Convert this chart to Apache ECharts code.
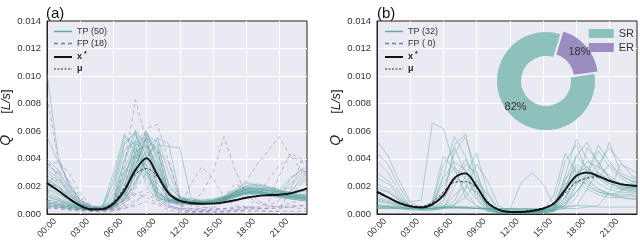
<!DOCTYPE html>
<html><head><meta charset="utf-8">
<script src="https://cdn.jsdelivr.net/npm/echarts@6/dist/echarts.min.js"></script>
<style>html,body{margin:0;padding:0;background:#fff}#c{width:640px;height:243px}</style>
</head><body><div id="c"></div>
<script>
// time of day in hours
const hours = [0,1,2,3,4,5,6,7,8,9,10,11,12,13,14,15,16,17,18,19,20,21,22,23,23.5];
const xTickLabels = ['00:00','03:00','06:00','09:00','12:00','15:00','18:00','21:00'];
const yTickLabels = ['0.000','0.002','0.004','0.006','0.008','0.010','0.012','0.014'];
// values below are in units of 10^-3 L/s
const UNIT = 0.001;

// ---- panel (a) ----
const tpA = [
 [10.2,4.2,2.0,1.0,0.6,0.5,0.8,2.5,5.2,5.6,3.0,1.2,0.9,0.8,0.8,0.9,1.1,1.4,1.6,1.5,1.4,1.3,1.2,1.1,1.1],
 [2.8,2.2,1.4,0.7,0.4,0.4,1.2,3.8,5.8,4.2,1.6,1.0,0.8,0.7,0.8,0.9,1.2,1.6,1.9,1.7,1.5,1.4,1.3,1.2,1.2],
 [0.8,0.7,0.6,0.5,0.4,0.5,1.8,5.0,6.0,3.5,1.2,0.9,0.8,0.7,0.8,1.0,1.3,1.7,2.0,1.8,1.6,1.5,1.3,1.2,1.1],
 [3.5,3.0,2.0,0.9,0.5,0.4,0.6,1.5,4.0,5.6,4.6,1.5,1.0,0.9,0.8,0.8,1.0,1.4,1.8,2.1,1.9,1.7,1.6,2.6,2.9],
 [1.6,1.2,0.8,0.5,0.3,0.3,0.5,2.0,4.5,5.0,2.8,1.0,0.8,0.8,0.9,1.0,1.2,1.5,1.7,1.6,1.5,1.4,1.3,1.2,1.2],
 [0.6,0.5,0.4,0.3,0.3,0.4,1.0,3.2,5.4,5.9,3.8,1.4,1.0,0.9,0.8,0.9,1.1,1.5,1.8,1.7,1.5,1.3,1.1,1.0,1.0],
 [4.0,3.2,1.8,0.8,0.4,0.4,0.7,1.2,2.8,4.8,5.5,5.1,1.3,1.0,0.9,0.9,1.0,1.3,1.6,1.7,1.6,1.5,1.4,1.3,1.2],
 [2.0,1.5,1.0,0.6,0.4,0.3,0.6,2.6,4.8,3.0,1.4,1.0,1.1,1.0,0.9,0.9,1.1,1.6,2.2,2.0,1.8,1.7,2.2,3.0,3.1],
 [1.2,1.0,0.7,0.4,0.3,0.3,0.9,4.0,6.1,4.8,1.8,1.1,0.9,0.8,0.8,0.9,1.2,1.6,1.8,1.6,1.4,1.3,1.2,1.1,1.0],
 [3.0,2.4,1.6,0.8,0.5,0.5,0.6,1.0,2.2,4.4,4.9,2.2,1.1,0.9,0.8,0.8,1.0,1.2,1.5,1.8,1.9,1.7,1.5,1.4,1.3],
 [0.9,0.8,0.6,0.4,0.3,0.4,2.5,5.6,5.0,2.4,1.2,0.9,0.8,0.7,0.7,0.8,1.0,1.3,1.5,1.4,1.3,1.2,1.1,1.1,1.0],
 [2.3,1.9,1.2,0.6,0.4,0.4,0.5,1.8,3.9,5.2,3.2,1.3,1.0,0.9,0.9,0.9,1.2,1.6,2.0,2.2,2.0,1.8,2.6,3.2,3.4],
 [0.7,0.6,0.5,0.4,0.3,0.3,0.4,0.8,2.0,4.0,5.5,3.0,1.1,0.8,0.8,0.8,0.9,1.2,1.4,1.5,1.4,1.2,1.1,1.0,0.9],
 [5.6,3.8,2.2,1.0,0.5,0.4,0.9,3.0,4.4,3.6,1.6,1.0,0.9,0.8,0.8,0.9,1.1,1.4,1.6,1.5,1.4,1.3,1.2,1.2,1.2],
 [1.8,1.4,0.9,0.5,0.3,0.3,0.6,1.4,3.4,5.7,5.2,2.0,1.2,1.1,1.0,1.0,1.2,1.5,1.9,1.8,1.7,1.6,1.5,1.4,1.4],
 [2.6,2.0,1.2,0.6,0.4,0.4,1.4,4.6,5.3,3.0,1.3,1.0,0.9,0.9,0.8,0.9,1.0,1.3,1.5,1.6,1.5,1.4,1.3,2.2,2.5],
 [1.0,0.9,0.7,0.5,0.4,0.4,0.5,1.1,3.0,4.6,3.4,1.4,1.0,0.9,0.8,0.8,1.0,1.4,1.8,1.9,1.8,1.6,1.4,1.3,1.3],
 [3.2,2.6,1.5,0.7,0.4,0.3,0.5,1.6,4.2,6.0,4.0,1.5,1.1,1.0,0.9,0.9,1.1,1.5,1.7,1.6,1.5,1.4,1.3,1.2,1.1],
 [0.5,0.5,0.4,0.3,0.3,0.5,3.0,5.8,4.4,2.0,1.0,0.8,0.7,0.7,0.7,0.8,1.0,1.3,1.6,1.7,1.5,1.3,1.2,1.1,1.0],
 [2.1,1.7,1.1,0.6,0.4,0.4,0.6,1.3,2.8,4.2,5.0,4.9,4.8,1.2,0.9,0.9,1.1,1.5,1.8,1.9,1.7,1.6,1.5,1.6,1.7],
 [1.4,1.1,0.8,0.5,0.4,0.4,0.8,2.8,5.0,5.4,2.2,1.1,0.9,0.8,0.8,0.8,1.0,1.3,1.6,1.5,1.4,1.3,1.2,1.4,1.5],
 [2.5,2.0,1.3,0.7,0.4,0.3,0.5,1.0,2.4,3.6,4.5,3.8,1.2,0.9,0.8,0.9,1.1,1.4,1.7,1.8,1.7,1.6,1.6,2.4,2.7],
 [0.8,0.7,0.5,0.4,0.3,0.4,0.7,2.2,4.2,3.2,1.5,1.0,0.9,0.9,1.0,1.1,1.3,1.8,2.3,2.1,1.9,1.7,1.5,1.3,1.2],
 [3.8,2.8,1.6,0.8,0.5,0.4,0.6,1.5,3.6,5.0,3.6,1.4,1.0,0.9,0.8,0.8,1.0,1.3,1.5,1.5,1.4,1.5,2.0,2.8,3.0],
 [1.3,1.0,0.7,0.5,0.4,0.6,2.2,5.2,5.9,2.8,1.2,0.9,0.8,0.7,0.7,0.8,1.0,1.3,1.6,1.6,1.5,1.4,1.3,1.2,1.2],
 [0.6,0.6,0.5,0.4,0.3,0.3,0.5,1.6,3.6,5.5,4.4,1.6,1.0,0.9,0.9,1.0,1.2,1.6,2.0,1.9,1.7,1.5,1.4,1.3,1.3]
];
const fpA = [
 [8.5,4.0,2.2,1.0,0.5,0.4,0.6,1.0,1.5,1.2,0.8,0.5,0.3,0.2,0.2,0.2,0.2,0.3,0.3,0.3,0.2,0.2,0.2,0.2,0.2],
 [3.5,3.8,3.0,1.5,0.6,0.4,0.8,3.5,8.3,5.2,1.8,0.6,0.4,0.3,0.3,0.3,0.4,0.5,0.5,0.4,0.4,0.4,0.5,0.6,0.6],
 [1.0,0.8,0.6,0.4,0.3,0.3,0.6,2.0,4.5,6.2,6.5,3.8,1.2,0.6,0.5,0.4,0.4,0.4,0.5,0.5,0.5,0.6,0.8,1.0,1.0],
 [0.6,0.5,0.4,0.3,0.2,0.2,0.3,0.6,1.8,3.0,2.6,1.0,0.6,0.8,1.5,3.0,5.6,3.2,1.4,0.8,0.6,0.5,0.5,0.4,0.4],
 [0.4,0.4,0.3,0.3,0.2,0.2,0.2,0.4,0.8,1.6,1.2,0.6,0.4,0.4,0.4,0.5,0.8,1.6,2.4,3.6,4.6,5.6,4.2,3.8,3.6],
 [2.0,3.2,2.4,1.2,0.5,0.3,0.3,0.5,1.0,1.4,1.0,0.5,0.3,2.2,3.4,2.6,1.2,0.6,0.5,0.5,0.8,2.8,4.4,4.0,3.8],
 [0.5,0.4,0.3,0.2,0.2,0.2,0.4,1.0,2.4,4.0,2.8,0.8,0.2,0.2,0.2,0.2,0.2,0.2,0.3,1.2,2.5,3.5,4.2,3.2,2.8],
 [1.5,2.6,1.8,0.8,0.4,0.3,0.3,0.4,0.6,0.9,0.7,0.3,0.1,0.1,0.1,0.1,0.1,0.2,0.2,0.2,0.2,0.2,1.8,3.8,4.0],
 [0.8,0.6,0.5,0.4,0.3,0.3,0.5,1.2,3.2,5.8,4.6,1.5,0.6,0.4,0.3,0.3,0.3,0.3,0.4,0.4,0.4,0.5,0.6,0.6,0.6],
 [2.4,2.0,1.4,0.7,0.4,0.3,0.4,0.8,1.4,1.8,3.0,1.8,0.4,0.2,0.2,0.3,1.2,2.2,1.8,1.0,0.6,1.0,2.6,3.2,3.0]
];
const xStarA = [2.25,1.7,1.1,0.6,0.33,0.35,0.75,1.7,3.2,4.05,2.8,1.5,0.95,0.8,0.74,0.75,0.85,1.0,1.18,1.3,1.36,1.4,1.5,1.72,1.86];
const muA    = [2.15,1.7,1.15,0.65,0.38,0.4,0.85,1.9,2.9,3.3,2.7,1.55,1.0,0.82,0.76,0.77,0.87,1.02,1.2,1.32,1.38,1.42,1.52,1.72,1.85];

// ---- panel (b) ----
const tpB = [
 [5.3,4.2,2.4,0.9,1.0,6.6,6.2,3.5,1.2,0.6,0.3,0.2,0.2,0.2,0.2,0.2,0.5,2.0,3.6,3.0,2.2,1.8,1.6,1.5,1.5],
 [0.5,0.5,0.4,0.4,0.4,0.4,0.5,0.5,0.4,0.4,0.4,0.3,0.3,0.3,0.3,0.3,0.4,2.8,5.4,4.0,3.0,2.5,2.2,2.0,2.0],
 [3.8,3.0,1.6,0.6,0.4,0.6,2.8,5.6,4.2,1.8,0.4,0.1,0.1,0.1,0.1,0.1,0.3,1.2,2.6,3.2,2.8,2.2,1.9,1.8,1.7],
 [1.0,0.8,0.6,0.5,0.4,0.8,3.6,4.8,3.0,1.2,0.2,0.1,0.1,0.1,0.1,0.2,0.8,3.8,5.0,3.0,2.6,3.6,2.8,2.4,2.3],
 [0.4,0.4,0.4,0.3,0.3,0.3,0.4,0.5,0.5,0.4,0.4,0.4,0.4,0.3,0.3,0.3,0.4,0.6,2.0,4.8,3.8,2.6,2.0,1.8,1.8],
 [2.6,2.2,1.2,0.6,0.4,0.5,1.6,4.4,5.6,3.0,0.6,0.1,0.1,0.1,0.2,0.2,0.5,2.6,3.2,2.4,1.8,1.5,1.4,1.4,1.3],
 [0.6,0.6,0.5,0.4,0.4,0.4,0.5,0.5,0.5,0.4,0.4,0.3,0.3,2.2,3.0,2.2,0.6,0.5,0.6,1.8,3.2,5.2,3.0,2.6,2.5],
 [1.8,1.6,1.0,0.5,0.3,0.4,1.0,2.4,4.0,2.6,0.6,0.1,0.1,0.1,0.1,0.1,0.2,1.0,2.8,3.8,3.4,2.8,2.2,1.9,1.9],
 [0.5,0.5,0.4,0.3,0.3,0.3,0.4,2.0,3.6,3.0,1.0,0.2,0.1,0.1,0.1,0.1,0.3,1.6,4.2,5.2,3.6,2.6,2.1,1.9,1.9],
 [2.2,1.8,1.1,0.6,0.4,0.9,4.2,3.2,1.6,0.6,0.2,0.1,0.1,0.1,0.1,0.2,0.6,2.2,2.4,1.8,1.4,1.2,1.2,1.1,1.1],
 [0.4,0.4,0.4,0.4,0.3,0.3,0.4,0.4,0.4,0.4,0.3,0.3,0.3,0.3,0.3,0.3,0.3,0.4,0.4,0.5,0.6,1.6,3.6,3.2,3.0],
 [3.0,2.4,1.4,0.6,0.4,0.7,2.2,3.4,2.6,1.4,0.4,0.1,0.1,0.1,0.1,0.1,0.2,0.8,2.2,2.8,4.6,3.4,2.6,2.2,2.1],
 [0.7,0.6,0.5,0.4,0.4,0.4,0.8,5.0,5.8,2.2,0.4,0.1,0.1,0.1,0.1,0.1,0.3,1.2,2.4,2.2,1.6,1.4,1.3,1.3,1.2],
 [1.4,1.2,0.8,0.5,0.4,0.4,0.5,0.6,1.8,3.6,2.4,0.6,0.2,0.1,0.1,0.2,1.4,4.4,3.0,2.0,1.6,1.4,1.6,2.2,2.4],
 [0.5,0.5,0.5,0.4,0.4,0.4,0.5,0.5,0.5,0.4,0.4,0.4,0.4,0.4,0.4,0.4,0.5,0.5,0.6,0.6,0.5,0.5,0.5,0.5,0.5],
 [4.4,3.6,2.0,0.8,0.5,0.6,1.2,2.6,2.2,1.0,0.3,0.1,0.1,0.1,0.1,0.2,0.4,1.6,3.0,3.4,2.6,2.0,1.8,1.7,1.6],
 [0.6,0.5,0.5,0.4,0.4,0.4,0.5,0.5,0.5,0.5,0.4,0.4,0.4,0.4,0.4,0.3,0.3,0.4,1.2,3.0,5.0,3.8,2.8,2.4,2.3],
 [1.2,1.0,0.7,0.5,0.4,0.6,2.6,3.8,3.2,1.6,0.5,0.1,0.1,0.1,0.1,0.1,0.3,1.8,3.4,2.6,1.8,1.4,1.2,1.1,1.0],
 [0.9,0.8,0.6,0.5,0.5,0.5,0.6,0.9,2.8,4.4,1.6,0.3,0.2,0.2,0.2,0.3,0.6,2.4,4.2,3.4,2.6,2.2,2.0,1.9,1.9],
 [2.0,1.6,1.0,0.6,0.4,0.4,0.5,1.4,2.0,1.6,0.6,0.1,0.1,0.1,0.1,0.1,0.2,0.6,1.6,2.6,3.0,2.4,1.8,1.6,1.6],
 [1.1,0.9,0.7,0.5,0.4,0.4,0.5,0.7,1.2,2.4,1.4,0.3,0.2,0.2,0.2,0.2,0.3,0.8,1.6,2.6,3.6,4.8,3.8,2.8,2.6]
];
const xStarB = [1.62,1.2,0.8,0.55,0.47,0.7,1.35,2.6,2.95,2.0,0.8,0.3,0.15,0.15,0.22,0.38,0.77,1.75,2.75,3.0,2.75,2.4,2.17,2.07,2.03];
const muB    = [1.55,1.2,0.85,0.6,0.55,0.85,1.6,2.3,2.35,1.9,0.9,0.35,0.18,0.18,0.28,0.45,0.8,1.5,2.3,2.6,2.7,2.45,2.2,2.07,2.03];

// ---- donut ----
const pieNames = ['ER','SR'];
const pieValues = [18, 82];

const TEAL = '#5ea6a1', PURPLE = '#7b6da8';
const FONT = 'Liberation Sans';
const pairs = vals => vals.map((v, i) => [hours[i], v * UNIT]);

const series = [];
function addPanel(g, tp, tpName, fp, fpName, xs, xsName, mu, muName) {
  tp.forEach(v => series.push({type:'line', name:tpName, xAxisIndex:g, yAxisIndex:g, data:pairs(v),
    symbol:'none', silent:true, z:2, lineStyle:{color:TEAL, width:1, opacity:0.45}, itemStyle:{color:TEAL}}));
  if (fp.length) fp.forEach(v => series.push({type:'line', name:fpName, xAxisIndex:g, yAxisIndex:g, data:pairs(v),
    symbol:'none', silent:true, z:3, lineStyle:{color:PURPLE, width:1, type:[4,3], opacity:0.45}, itemStyle:{color:PURPLE}}));
  else series.push({type:'line', name:fpName, xAxisIndex:g, yAxisIndex:g, data:[], symbol:'none',
    lineStyle:{color:PURPLE, width:1, type:[4,3]}, itemStyle:{color:PURPLE}});
  series.push({type:'line', name:muName, xAxisIndex:g, yAxisIndex:g, data:pairs(mu), smooth:0.35,
    symbol:'none', silent:true, z:4, lineStyle:{color:'#333', width:1, type:[2.5,2]}, itemStyle:{color:'#333'}});
  series.push({type:'line', name:xsName, xAxisIndex:g, yAxisIndex:g, data:pairs(xs), smooth:0.35,
    symbol:'none', silent:true, z:5, lineStyle:{color:'#111', width:1.9}, itemStyle:{color:'#111'}});
}
addPanel(0, tpA, 'TP (50)', fpA, 'FP (18)', xStarA, 'xa', muA, 'mua');
addPanel(1, tpB, 'TP (32)', [], 'FP ( 0)', xStarB, 'xb', muB, 'mub');

series.push({type:'pie', name:'donut', center:[546,81], radius:[25,49], startAngle:73, clockwise:true,
  selectedMode:'single', selectedOffset:4, z:10, silent:true, animation:false,
  label:{show:true, position:'inside', formatter:'{c}%', color:'#333', fontSize:11, fontFamily:FONT},
  labelLine:{show:false}, emphasis:{disabled:true},
  data: pieNames.map((n, i) => ({name:n, value:pieValues[i], selected: n === 'ER',
    itemStyle:{color: n === 'ER' ? '#9c8dc0' : '#8ec0bc'}}))});

const legendLabels = {xa:'{b|x}{s|*}', xb:'{b|x}{s|*}', mua:'{b|μ}', mub:'{b|μ}'};
const HIDE = {color:'rgba(0,0,0,0)', borderWidth:0, opacity:0};
function lineLegend(left, names) {
  return {left, top:22, orient:'vertical', itemWidth:18, itemHeight:9, itemGap:3, selectedMode:false,
    textStyle:{fontSize:9, color:'#333', fontFamily:FONT,
      rich:{b:{fontWeight:'bold', fontSize:9, fontFamily:FONT, color:'#222'},
            s:{fontSize:7, fontWeight:'bold', verticalAlign:'top', padding:[0,0,5,2], color:'#222'}}},
    formatter: n => legendLabels[n] || n,
    data:[{name:names[0], itemStyle:HIDE, lineStyle:{color:'#5fa9a3', opacity:1, width:1.5}},
          {name:names[1], itemStyle:HIDE, lineStyle:{color:'#7a78a3', opacity:1, width:1.5, type:[4,3]}},
          {name:names[2], itemStyle:HIDE, lineStyle:{color:'#111', width:2}},
          {name:names[3], itemStyle:HIDE, lineStyle:{color:'#333', width:1, type:[2,1.5]}}]};
}

function xAx(g) {
  return {type:'value', gridIndex:g, min:0, max:23.5, interval:3,
    axisLine:{show:true, lineStyle:{color:'#222', width:1}}, axisTick:{show:false},
    splitLine:{show:true, showMinLine:false, showMaxLine:false, lineStyle:{color:'#fff', width:1}},
    axisLabel:{rotate:45, align:'center', verticalAlign:'middle', margin:14, fontSize:9, color:'#333',
      fontFamily:FONT, showMaxLabel:false, formatter: v => xTickLabels[Math.round(v / 3)] || ''}};
}
function yAx(g) {
  return {type:'value', gridIndex:g, min:0, max:0.014, interval:0.002,
    axisLine:{show:true, lineStyle:{color:'#222', width:1}}, axisTick:{show:false},
    splitLine:{show:true, showMinLine:false, showMaxLine:false, lineStyle:{color:'#fff', width:1}},
    axisLabel:{fontSize:9.5, color:'#333', margin:6, fontFamily:FONT,
      formatter: v => yTickLabels[Math.round(v / 0.002)]},
    name:'{q|Q\u2003\u2002}[{i|L/s}]', nameLocation:'middle', nameGap:28, nameRotate:90,
    nameTextStyle:{fontSize:13, color:'#222', fontFamily:FONT,
      rich:{q:{fontStyle:'italic', fontSize:14, fontFamily:FONT, color:'#222'},
            i:{fontStyle:'italic', fontSize:13, fontFamily:FONT, color:'#222'}}}};
}

const chart = echarts.init(document.getElementById('c'), null, {renderer:'canvas'});
chart.setOption({
  animation:false,
  backgroundColor:'#fff',
  title:[{text:'(a)', left:41, top:1, textStyle:{fontSize:15, fontWeight:'normal', color:'#111', fontFamily:FONT}},
         {text:'(b)', left:372, top:1, textStyle:{fontSize:15, fontWeight:'normal', color:'#111', fontFamily:FONT}}],
  grid:[{left:47, right:333, top:21, bottom:29, show:true, backgroundColor:'#eaeaf2', borderColor:'#222', borderWidth:1, outerBoundsMode:'none'},
        {left:377, right:3, top:21, bottom:29, show:true, backgroundColor:'#eaeaf2', borderColor:'#222', borderWidth:1, outerBoundsMode:'none'}],
  xAxis:[xAx(0), xAx(1)],
  yAxis:[yAx(0), yAx(1)],
  legend:[lineLegend(48, ['TP (50)','FP (18)','xa','mua']),
          lineLegend(379, ['TP (32)','FP ( 0)','xb','mub']),
          {right:1, top:23, orient:'vertical', icon:'rect', itemWidth:25, itemHeight:9, itemGap:3, selectedMode:false,
           textStyle:{fontSize:11, color:'#333', fontFamily:FONT}, data:['SR','ER']}],
  series
});
</script></body></html>
